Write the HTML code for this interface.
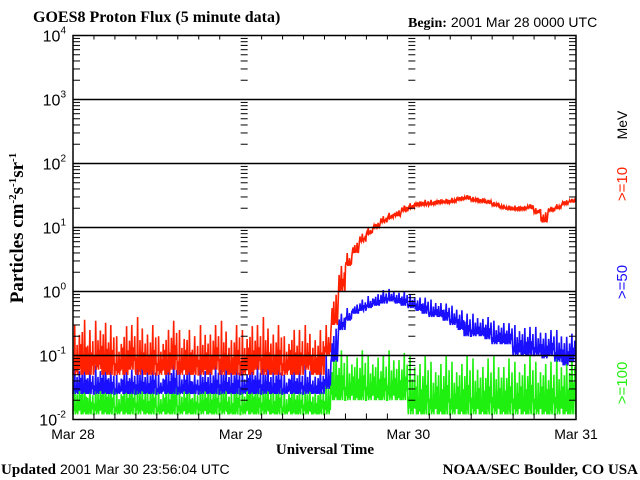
<!DOCTYPE html>
<html><head><meta charset="utf-8"><style>
body{margin:0;background:#fff;}
svg{display:block;}
.sans{font-family:"Liberation Sans",sans-serif;}
.serif{font-family:"Liberation Serif",serif;font-weight:bold;}
</style></head><body>
<svg id="chart" width="640" height="480" xmlns="http://www.w3.org/2000/svg">
<text class="serif" x="33" y="22" font-size="16">GOES8 Proton Flux (5 minute data)</text>
<text x="408" y="27" font-size="14"><tspan class="serif">Begin:</tspan><tspan class="sans" dx="4">2001 Mar 28 0000 UTC</tspan></text>
<text class="serif" font-size="19" transform="translate(23,228) rotate(-90)" text-anchor="middle">Particles cm<tspan font-size="11" dy="-7">-2</tspan><tspan dy="7">s</tspan><tspan font-size="11" dy="-7">-1</tspan><tspan dy="7">sr</tspan><tspan font-size="11" dy="-7">-1</tspan></text>
<text class="sans" font-size="14" transform="translate(627,125) rotate(-90)" text-anchor="middle">MeV</text>
<text class="sans" font-size="15" fill="#ff2000" transform="translate(627,184) rotate(-90)" text-anchor="middle">&gt;=10</text>
<text class="sans" font-size="15" fill="#1a10ff" transform="translate(627,282) rotate(-90)" text-anchor="middle">&gt;=50</text>
<text class="sans" font-size="15" fill="#20f010" transform="translate(627,383) rotate(-90)" text-anchor="middle">&gt;=100</text>
<text class="serif" x="325" y="454" font-size="15" text-anchor="middle">Universal Time</text>
<text x="1" y="474" font-size="15"><tspan class="serif">Updated</tspan><tspan class="sans" dx="4" font-size="14">2001 Mar 30 23:56:04 UTC</tspan></text>
<text class="serif" x="638" y="474" font-size="15" text-anchor="end">NOAA/SEC Boulder, CO USA</text>
<g id="plot"></g>
</svg>
<script>
const dayLabels=["Mar 28","Mar 29","Mar 30","Mar 31"];
const decadeExps=[-2,-1,0,1,2,3,4];
const redHi=[0.3,0.45,0.25,0.35,0.4,0.3,0.2,0.35,0.3,0.4,0.25,0.3,0.2,0.3,0.35,0.25,0.3,0.2,0.3,0.25,0.3,0.35,0.2,0.3,0.25,0.35,0.3,0.4,0.25,0.3,0.2,0.3,0.25,0.3,0.2,0.25,0.3,1.0,2.5,4,6,8,10,12,15,17,19,22,24,26,27,27,28,28,29,31,32,30,29,27,25,23,22,22,22,23,20,18,21,23,27,28];
const redLo=[0.05,0.05,0.05,0.06,0.05,0.05,0.05,0.05,0.06,0.05,0.05,0.05,0.05,0.05,0.06,0.05,0.05,0.05,0.05,0.05,0.06,0.05,0.05,0.05,0.05,0.05,0.06,0.05,0.05,0.05,0.05,0.05,0.05,0.06,0.05,0.05,0.1,0.3,1,2.5,4,6,8,10,12,14,15,18,20,22,22,23,24,24,25,27,28,26,25,24,22,20,19,19,19,20,17,12,18,20,23,25];
const blueHi=[0.07,0.08,0.06,0.07,0.08,0.06,0.05,0.07,0.06,0.08,0.06,0.07,0.05,0.07,0.08,0.06,0.07,0.05,0.07,0.06,0.07,0.08,0.06,0.07,0.06,0.08,0.07,0.08,0.06,0.07,0.05,0.07,0.06,0.07,0.05,0.06,0.1,0.3,0.45,0.55,0.65,0.75,0.85,0.95,1.05,1.1,1.0,1.0,0.9,0.85,0.8,0.75,0.7,0.65,0.6,0.55,0.45,0.45,0.4,0.4,0.35,0.35,0.32,0.3,0.3,0.28,0.28,0.25,0.25,0.25,0.22,0.22];
const blueLo=[0.025,0.025,0.025,0.025,0.025,0.025,0.025,0.025,0.025,0.025,0.025,0.025,0.025,0.025,0.025,0.025,0.025,0.025,0.025,0.025,0.025,0.025,0.025,0.025,0.025,0.025,0.025,0.025,0.025,0.025,0.025,0.025,0.025,0.025,0.025,0.025,0.03,0.08,0.25,0.35,0.45,0.5,0.55,0.6,0.65,0.7,0.65,0.6,0.55,0.5,0.45,0.4,0.4,0.35,0.3,0.25,0.2,0.2,0.2,0.18,0.15,0.15,0.15,0.1,0.1,0.1,0.1,0.09,0.1,0.08,0.07,0.08];
const greenHi=[0.04,0.05,0.03,0.045,0.05,0.04,0.03,0.045,0.04,0.05,0.035,0.04,0.03,0.04,0.05,0.035,0.04,0.03,0.045,0.04,0.04,0.05,0.03,0.04,0.035,0.05,0.04,0.05,0.035,0.04,0.03,0.04,0.035,0.04,0.03,0.035,0.06,0.15,0.12,0.1,0.11,0.12,0.1,0.11,0.1,0.12,0.1,0.11,0.1,0.09,0.1,0.08,0.09,0.1,0.08,0.09,0.1,0.09,0.08,0.09,0.1,0.08,0.09,0.08,0.09,0.1,0.08,0.09,0.08,0.1,0.09,0.12];
const greenLo=[0.012,0.012,0.012,0.012,0.012,0.012,0.012,0.012,0.012,0.012,0.012,0.012,0.012,0.012,0.012,0.012,0.012,0.012,0.012,0.012,0.012,0.012,0.012,0.012,0.012,0.012,0.012,0.012,0.012,0.012,0.012,0.012,0.012,0.012,0.012,0.012,0.012,0.02,0.02,0.02,0.02,0.02,0.02,0.02,0.02,0.02,0.02,0.02,0.012,0.012,0.012,0.012,0.012,0.012,0.012,0.012,0.012,0.012,0.012,0.012,0.012,0.012,0.012,0.012,0.012,0.012,0.012,0.012,0.012,0.012,0.012,0.012];

const X0=73,X1=576,Y0=35.5,Y1=419.5;
const NS="http://www.w3.org/2000/svg";
const g=document.getElementById('plot');
function xs(h){return X0+(X1-X0)*h/72;}
function ys(v){return Y1-(Y1-Y0)*(Math.log10(v)+2)/6;}
function mk(t,a){const e=document.createElementNS(NS,t);for(const k in a)e.setAttribute(k,a[k]);g.appendChild(e);return e;}
const pats=[[0,0.3,0.1,1,0,0.2,0.05,0.6,0,0.4,0.1,0.8],[0.1,0.5,0,0.2,0.7,0,0.3,0.05,0.9,0.15,0,0.45],[0,0.65,0.2,0,0.35,1,0.1,0,0.5,0.2,0.75,0]];
function series(lo,hi,color,name){
  let d='';
  for(let h=0;h<lo.length;h++){
    const l=Math.log10(lo[h]),u=Math.log10(hi[h]);
    const pat=pats[h%3];
    for(let k=0;k<12;k++){
      const v=Math.pow(10,l+(u-l)*pat[k]);
      const x=xs(h+k/12),y=ys(v);
      d+=(d?'L':'M')+x.toFixed(1)+' '+y.toFixed(1);
    }
  }
  const p=mk('path',{d:d,fill:'none',stroke:color,'stroke-width':1.6});
  
  
}
series(greenLo,greenHi,'#20f010','series-ge100');
series(blueLo,blueHi,'#1a10ff','series-ge50');
series(redLo,redHi,'#ff2000','series-ge10');
decadeExps.forEach(e=>{
  const y=ys(Math.pow(10,e));
  if(e>-2&&e<4){const l=mk('line',{x1:X0,x2:X1,y1:y,y2:y,stroke:'#000','stroke-width':1.5});
    
    }
  const t=mk('text',{x:66,y:y+6,'font-size':16,'text-anchor':'end','font-family':'Liberation Sans, sans-serif'});
  
  
  t.innerHTML='10<tspan font-size="10" dy="-8">'+e+'</tspan>';
  if(e<4){for(let m=2;m<=9;m++){const yy=ys(m*Math.pow(10,e));
    [X0,xs(24),xs(48)].forEach(x=>{const tk=mk('line',{x1:x,x2:x+7,y1:yy,y2:yy,stroke:'#000','stroke-width':1});
      
      });
    const tr=mk('line',{x1:X1-7,x2:X1,y1:yy,y2:yy,stroke:'#000','stroke-width':1});
    
    }}
});
for(let h=0;h<=72;h+=3){
  const x=xs(h),len=(h%24==0)?0:6;
  if(len){const a=mk('line',{x1:x,x2:x,y1:Y1,y2:Y1-len,stroke:'#000','stroke-width':1});
    
    
    const b=mk('line',{x1:x,x2:x,y1:Y0,y2:Y0+4,stroke:'#000','stroke-width':1});
    
    }
}
dayLabels.forEach((s,i)=>{
  const t=mk('text',{x:xs(i*24),y:439,'font-size':14,'text-anchor':'middle','font-family':'Liberation Sans, sans-serif'});
  
  
  t.textContent=s;
});
const fr=mk('rect',{x:X0,y:Y0,width:X1-X0,height:Y1-Y0,fill:'none',stroke:'#000','stroke-width':1.5});


</script>
</body></html>
